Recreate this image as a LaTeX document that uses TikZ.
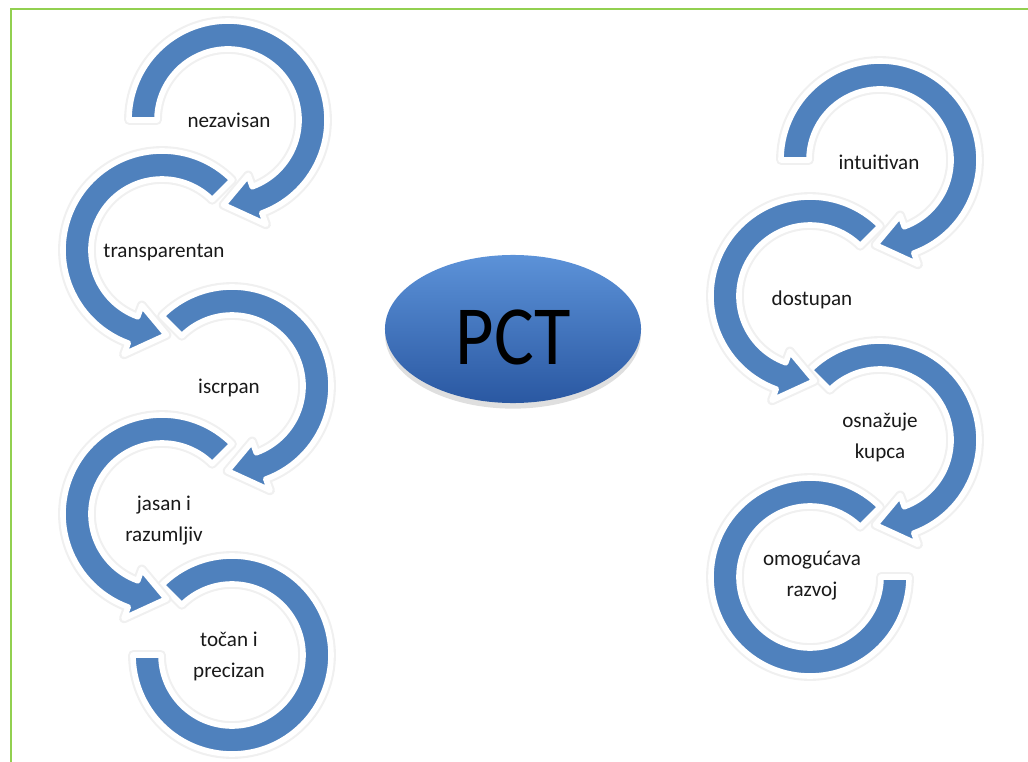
\documentclass[tikz,border=0pt]{standalone}
\usepackage{fontspec}
\setmainfont{Carlito}
\usetikzlibrary{shapes.geometric,calc,shadows}
\definecolor{ringblue}{RGB}{79,129,189}
\definecolor{framegreen}{RGB}{146,208,80}
\definecolor{pcttop}{RGB}{92,146,216}
\definecolor{pctbottom}{RGB}{42,88,162}
\begin{document}
\begin{tikzpicture}[x=0.025cm,y=0.025cm]
  \tikzstyle{ring} = [fill=ringblue,draw=white,line width=4pt,line join=round,preaction={draw=black!6,line width=7pt,line join=round}]
  \tikzstyle{ringtext} = [text=black!90,font=\fontsize{15}{22}\selectfont,align=center]
  \useasboundingbox (0,0) rectangle (1028,-762);
  \draw[framegreen,line width=2pt] (11,-762) -- (11,-9) -- (1028,-9);

  % last ring of each side, no head
  \foreach \nm/\x/\y/\sa/\ea in {l5/232/-655/135/-180, r4/810/-577/45/360} {
    \coordinate (\nm) at (\x,\y);
    \path[ring] ($(\nm)+(\sa:99)$) arc[start angle=\sa,end angle=\ea,radius=99]
      -- ($(\nm)+(\ea:71)$) arc[start angle=\ea,end angle=\sa,radius=71] -- cycle;
  }
  % arrows, bottom one first so each head lies on the next tail
  \foreach \nm/\x/\y/\sa/\ea/\ta in {l4/162/-514/45/250/273, l3/232/-386/135/-70/-93,
    l2/162/-250/45/250/273, l1/228/-120/180/-70/-93,
    r3/880/-440/135/-70/-93, r2/810/-296/45/250/273, r1/880/-160/180/-70/-93} {
    \coordinate (\nm) at (\x,\y);
    \path[ring] ($(\nm)+(\sa:99)$) arc[start angle=\sa,end angle=\ea,radius=99]
      -- ($(\nm)+(\ea:111)$) -- ($(\nm)+(\ta:85)$) -- ($(\nm)+(\ea:59)$)
      -- ($(\nm)+(\ea:71)$) arc[start angle=\ea,end angle=\sa,radius=71] -- cycle;
  }

  \node[ringtext] (nezavisan) at (229,-120) {nezavisan};
  \node[ringtext] (transparentan) at (164,-253) {transparentan};
  \node[ringtext] (iscrpan) at (229,-388) {iscrpan};
  \node[ringtext] (jasan) at (164,-521) {jasan i\\razumljiv};
  \node[ringtext] (tocan) at (229,-656) {točan i\\precizan};
  \node[ringtext] (intuitivan) at (879,-162) {intuitivan};
  \node[ringtext] (dostupan) at (812,-300) {dostupan};
  \node[ringtext] (osnazuje) at (880,-437) {osnažuje\\kupca};
  \node[ringtext] (omogucava) at (812,-576) {omogućava\\razvoj};

  \node[ellipse,minimum width=6.4cm,minimum height=3.7cm,inner sep=0pt,
    top color=pcttop,bottom color=pctbottom,
    drop shadow={opacity=0.25,shadow xshift=0pt,shadow yshift=-4pt},
    font=\fontsize{53}{53}\selectfont,text height=50pt,text depth=0pt] (pct) at (513,-329) {\scalebox{1}[1.13]{PCT}};
\end{tikzpicture}
\end{document}
